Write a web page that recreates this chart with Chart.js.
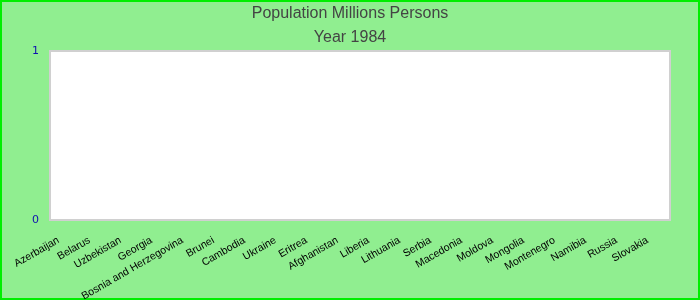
<!DOCTYPE html>
<html>
<head>
<meta charset="utf-8">
<script src="https://cdn.jsdelivr.net/npm/chart.js@4/dist/chart.umd.min.js"></script>
<style>
  html, body { margin: 0; padding: 0; background: #90EE90; }
  #wrap { width: 700px; height: 300px; position: relative; }
</style>
</head>
<body>
<div id="wrap"><canvas id="c"></canvas></div>
<script>
// ---- data ----
const categories = [
  "Azerbaijan", "Belarus", "Uzbekistan", "Georgia", "Bosnia and Herzegovina",
  "Brunei", "Cambodia", "Ukraine", "Eritrea", "Afghanistan",
  "Liberia", "Lithuania", "Serbia", "Macedonia", "Moldova",
  "Mongolia", "Montenegro", "Namibia", "Russia", "Slovakia"
];
// No bars are visible in the reference: every value is missing
const populationValues = [
  null, null, null, null, null,
  null, null, null, null, null,
  null, null, null, null, null,
  null, null, null, null, null
];
const yTickValues = [0, 1];
const titleLines = ["Population Millions Persons", "Year 1984"];

const bgPlugin = {
  id: 'bg',
  beforeDraw(chart) {
    const ctx = chart.ctx;
    const a = chart.chartArea;
    ctx.save();
    ctx.fillStyle = '#90EE90';
    ctx.fillRect(0, 0, chart.width, chart.height);
    ctx.fillStyle = '#ffffff';
    ctx.fillRect(a.left, a.top, a.right - a.left, a.bottom - a.top);
    ctx.strokeStyle = '#d0d0d0';
    ctx.lineWidth = 2;
    ctx.strokeRect(a.left, a.top, a.right - a.left, a.bottom - a.top);
    ctx.strokeStyle = '#00ee00';
    ctx.lineWidth = 2;
    ctx.strokeRect(1, 1, chart.width - 2, chart.height - 2);
    ctx.restore();
  }
};

new Chart(document.getElementById('c'), {
  type: 'bar',
  data: {
    labels: categories,
    datasets: [{
      label: 'Population',
      data: populationValues,
      backgroundColor: '#4472c4'
    }]
  },
  options: {
    responsive: true,
    maintainAspectRatio: false,
    animation: false,
    layout: { padding: 0 },
    plugins: {
      legend: { display: false },
      tooltip: { enabled: false },
      title: {
        display: true,
        text: titleLines,
        color: '#444444',
        font: { family: 'Liberation Sans', size: 16, weight: 'normal', lineHeight: 1.5 },
        padding: { top: 2, bottom: 1 }
      }
    },
    scales: {
      x: {
        grid: { display: false, drawTicks: false },
        border: { display: false },
        ticks: {
          color: '#000000',
          font: { family: 'Liberation Sans', size: 10.6 },
          minRotation: 30,
          maxRotation: 30,
          autoSkip: false,
          labelOffset: -7,
          padding: 14
        },
        afterFit(scale) { scale.height = 80; }
      },
      y: {
        min: 0,
        max: 1,
        grid: { display: false, drawTicks: false },
        border: { display: false },
        afterBuildTicks(scale) { scale.ticks = yTickValues.map(v => ({ value: v })); },
        ticks: {
          color: '#1010b0',
          font: { family: 'DejaVu Sans', size: 11 },
          padding: 11
        },
        afterFit(scale) { scale.width = 50; }
      },
      yRight: {
        type: 'linear',
        position: 'right',
        grid: { display: false, drawTicks: false },
        border: { display: false },
        ticks: { display: false },
        afterFit(scale) { scale.width = 30; }
      }
    }
  },
  plugins: [bgPlugin]
});
</script>
</body>
</html>
